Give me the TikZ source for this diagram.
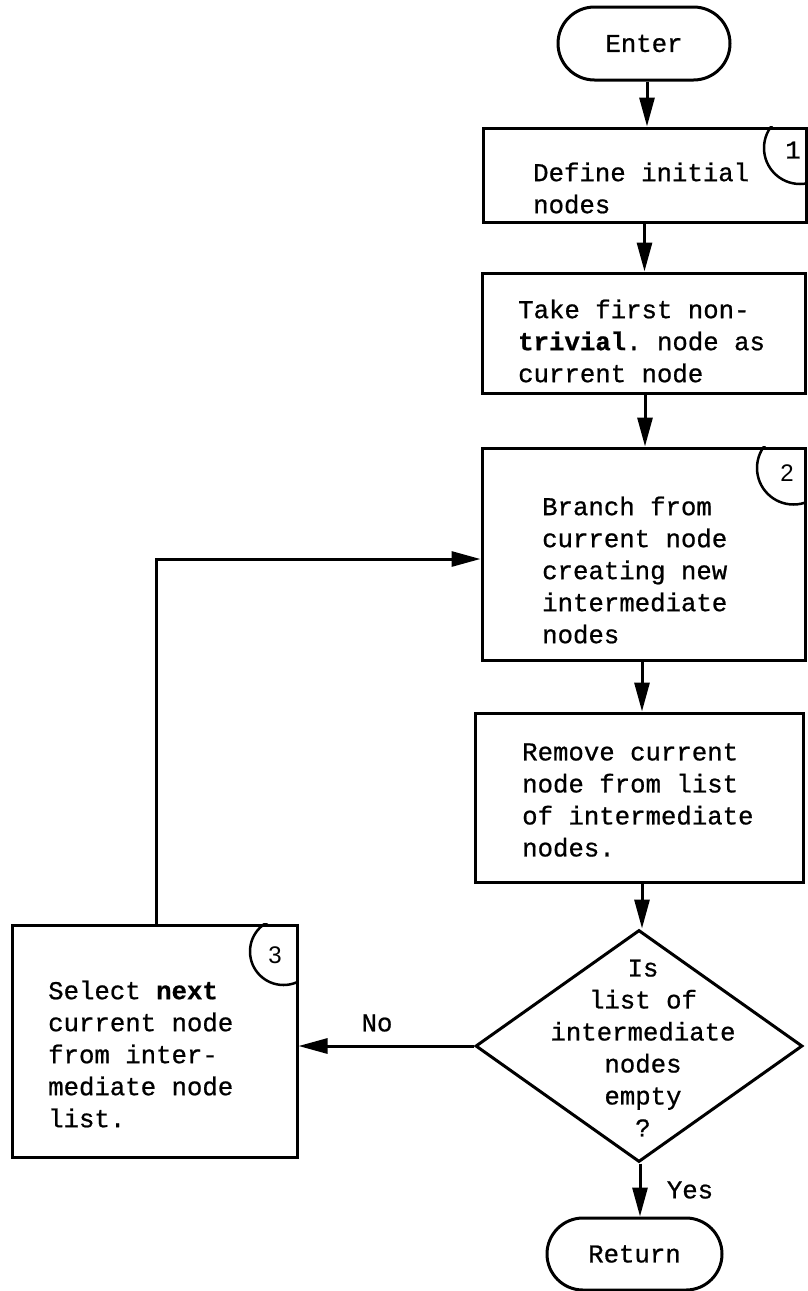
\documentclass[tikz,border=0pt]{standalone}
\usepackage{fontspec}
\setmonofont{Liberation Mono}[FakeBold=0.8]
\setsansfont{Liberation Sans}
\usetikzlibrary{arrows.meta,shapes.misc,shapes.geometric}
\begin{document}
\begin{tikzpicture}[x=1pt,y=-1pt,
  every node/.style={font=\ttfamily\fontsize{25.7}{32}\selectfont},
  box/.style={draw,line width=3pt,rectangle,inner sep=0pt},
  pill/.style={draw,line width=3pt,rounded rectangle,inner sep=0pt},
  decision/.style={draw,line width=3pt,diamond,inner sep=0pt},
  txt/.style={align=left,inner sep=0pt,anchor=west},
  tagline/.style={line width=2.5pt},
  tagnum/.style={inner sep=0pt},
  arr/.style={line width=3pt,-{Triangle[length=29pt,width=15pt]}},
  lbl/.style={inner sep=0pt},
]
\useasboundingbox (0,0) rectangle (807,1291);

% shapes
\node[pill,minimum width=172pt,minimum height=73pt] (enter) at (644,43.5) {Enter};
\node[box,minimum width=323pt,minimum height=94pt] (b1) at (644.5,175) {};
\node[box,minimum width=323pt,minimum height=120pt] (b2) at (643.5,333) {};
\node[box,minimum width=323pt,minimum height=212pt] (b3) at (643.5,554) {};
\node[box,minimum width=328pt,minimum height=169pt] (b4) at (639,797.5) {};
\node[decision,minimum width=327pt,minimum height=232pt] (d) at (639,1046) {};
\node[box,minimum width=285pt,minimum height=232pt] (b5) at (154.5,1041) {};
\node[pill,minimum width=175pt,minimum height=72pt] (ret) at (634.5,1254) {Return};

% texts
\node[txt] (t1) at (533,188) {Define initial\\nodes};
\node[txt] (t2) at (518,341) {Take first non-\\\textbf{trivial}. node as\\current node};
\node[txt] (t3) at (542,570) {Branch from\\current node\\creating new\\intermediate\\nodes};
\node[txt] (t4) at (522,800) {Remove current\\node from list\\of intermediate\\nodes.};
\node[txt] (t5) at (48,1054) {Select \textbf{next}\\current node\\from inter-\\mediate node\\list.};
\node[align=center,inner sep=0pt] (t6) at (643,1048) {Is\\list of\\intermediate\\nodes\\empty\\?};

% numbered tags
\begin{scope}
  \clip (b1.north west) rectangle (b1.south east);
  \draw[tagline] (800,148) circle (36pt);
\end{scope}
\node[tagnum] (n1) at (793,150) {1};
\begin{scope}
  \clip (b3.north west) rectangle (b3.south east);
  \draw[tagline] (793.5,468) circle (36.5pt);
\end{scope}
\node[tagnum,font=\sffamily\fontsize{24}{28}\selectfont] (n2) at (787,473) {2};
\begin{scope}
  \clip (b5.north west) rectangle (b5.south east);
  \draw[tagline] (283.5,951.5) circle (33.5pt);
\end{scope}
\node[tagnum,font=\sffamily\fontsize{24}{28}\selectfont] (n3) at (275,955) {3};

% connectors
\draw[arr] ([xshift=3pt]enter.south) -- ([xshift=3pt]enter.south |- b1.north);
\draw[arr] (b1.south) -- (b1.south |- b2.north);
\draw[arr] ([xshift=1.5pt]b2.south) -- ([xshift=1.5pt]b2.south |- b3.north);
\draw[arr] ([xshift=-1.5pt]b3.south) -- ([xshift=-1.5pt]b3.south |- b4.north);
\draw[arr] ([xshift=3pt]b4.south) -- ([xshift=3pt]b4.south |- d.north);
\draw[arr] ([xshift=1pt]d.south) -- ([xshift=1pt]d.south |- ret.north);
\coordinate (loop) at (156,559);
\draw[arr] (b5.north -| loop) -- (loop) -- (loop -| b3.west);
\draw[arr] (d.west) -- (d.west -| b5.east);

% labels
\node[lbl] (no) at (377,1023) {No};
\node[lbl] (yes) at (690,1190) {Yes};
\end{tikzpicture}
\end{document}
